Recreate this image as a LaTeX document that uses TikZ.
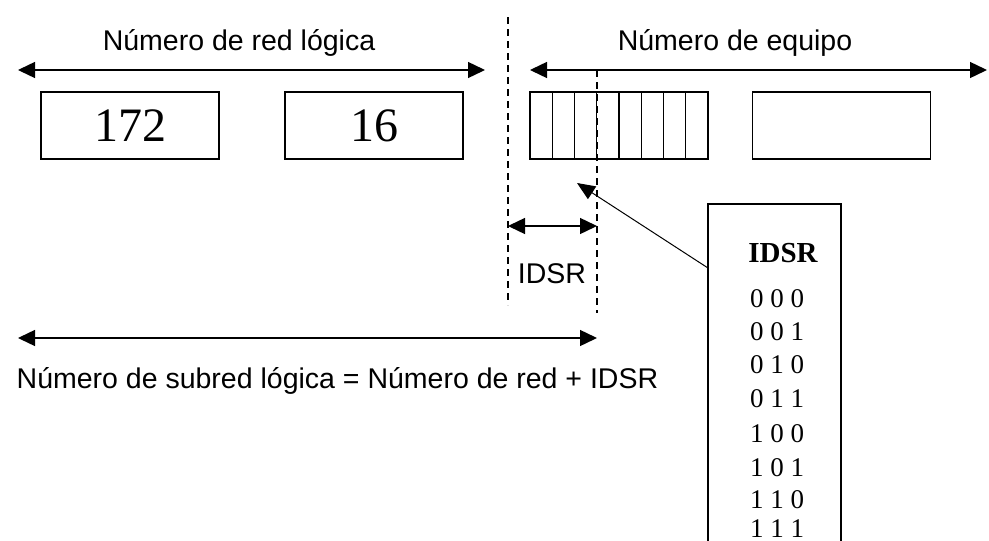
\documentclass[tikz,border=0pt]{standalone}
\usepackage{fontspec}
\setmainfont{Liberation Serif}
\setsansfont{Liberation Sans}
\usetikzlibrary{arrows.meta}
\tikzset{
    dtri/.style = {{Triangle[length = 17pt, width = 16pt]}-{Triangle[length = 17pt, width = 16pt]}},
    octet/.style = {draw, line width = 1.4pt, minimum width = 178pt, minimum height = 67pt,
        inner sep = 0pt, font = \fontsize{48}{50}\selectfont},
    lbl/.style = {font = \fontsize{28.5}{30}\sffamily, anchor = base, inner sep = 0pt},
    bitrow/.style = {font = \fontsize{27}{28}\selectfont, anchor = base, inner sep = 0pt},
}
\begin{document}
\begin{tikzpicture}[x = 1pt, y = -1pt, line width = 1.4pt]
        \useasboundingbox (0,0) rectangle (989,541);
        \fill[white] (0,0) rectangle (989,541);
        \node[lbl] (redlbl) at (239,50) {Número de red lógica};
        \node[lbl] (eqlbl) at (735,50) {Número de equipo};
        \node[lbl] (idsrlbl) at (552,283) {IDSR};
        \node[lbl, anchor = base west] (sublbl) at (16,388) {Número de subred lógica = Número de red + IDSR};
        \coordinate (redL) at (18,70);
        \coordinate (redR) at (485,70);
        \coordinate (eqL) at (530,70);
        \coordinate (eqR) at (987,70);
        \coordinate (idsrL) at (508,226);
        \coordinate (idsrR) at (597,226);
        \coordinate (subL) at (18,338);
        \coordinate (subR) at (597,338);
        \coordinate (divTop) at (508,17);
        \coordinate (divBot) at (508,305);
        \coordinate (sepTop) at (597,70);
        \coordinate (sepBot) at (597,313);
        \node[octet] (b172) at (130,125.5) {172};
        \node[octet] (b16) at (374,125.5) {16};
        \node[octet] (bits) at (619,125.5) {};
        \node[octet] (host) at (841.5,125.5) {};
        \foreach \i in {1,...,7}
            \draw (530+22.25*\i,92) -- (530+22.25*\i,159);
        \begin{scope}[style = dtri]
            \draw (redL) -- (redR);
            \draw (eqL) -- (eqR);
            \draw (idsrL) -- (idsrR);
            \draw (subL) -- (subR);
        \end{scope}
        \begin{scope}[style = dashed, dash pattern = on 7pt off 5pt, line width = 1.3pt]
            \draw (divTop) -- (divBot);
            \draw (sepTop) -- (sepBot);
        \end{scope}
        \draw (708,541) -- (708,204) -- (841,204) -- (841,541);
        \coordinate (tblPort) at (708,268);
        \coordinate (tip) at (577,183);
        \draw[line width = 1pt, -{Triangle[length = 18pt, width = 15pt]}] (tblPort) -- (tip);
        \node[bitrow, font = \fontsize{29}{30}\bfseries] (tblhead) at (783,262) {IDSR};
        \foreach \y/\b [count = \n] in {307/0 0 0, 340/0 0 1, 373/0 1 0, 407/0 1 1,
                442/1 0 0, 476/1 0 1, 508/1 1 0, 537/1 1 1}
            \node[bitrow] (bit\n) at (777,\y) {\b};
    \end{tikzpicture}
\end{document}
